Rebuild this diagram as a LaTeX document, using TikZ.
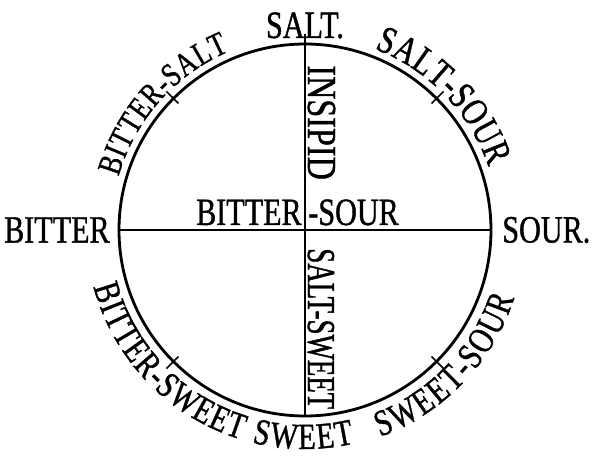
\documentclass[tikz,border=0pt]{standalone}
\usepackage{fontspec}
\usepackage{tikz}
\usetikzlibrary{decorations.text}
\newfontfamily\tastefont[FakeStretch=0.78,FakeBold=1]{Liberation Serif}
\newfontfamily\tastenarrow[FakeStretch=0.68,FakeBold=1]{Liberation Serif}
\newcommand{\bigtaste}{\tastefont\fontsize{22}{24}\selectfont}
\newcommand{\midtaste}{\tastefont\fontsize{21}{23}\selectfont}
\newcommand{\smalltaste}{\tastefont\fontsize{19}{21}\selectfont}
\tikzset{
  rim/.style={draw=black, line width=1.6pt},
  axis/.style={draw=black, line width=1.1pt},
  notch/.style={draw=black, line width=1pt},
  taste/.style={font=\bigtaste, inner sep=0pt, text=black},
  sidetaste/.style={taste, rotate=-90, anchor=base west},
  arctaste/.style={decorate, decoration={text along path, text align=fit to path, text={#1}}}
}

\begin{document}
\begin{tikzpicture}[x=0.02cm,y=0.02cm]
  \useasboundingbox (0,0) rectangle (600,457);
  \coordinate (c) at (305,227);

  % circle and cross
  \draw[rim] (c) circle[radius=186];
  \path (c) ++(90:196) coordinate (top)
        (c) ++(270:186) coordinate (bot)
        (c) ++(180:186) coordinate (west)
        (c) ++(0:186) coordinate (east);
  \draw[axis] (top) -- (bot);
  \draw[axis] (west) -- (east);
  \foreach \a in {45,135,225,315}
    \draw[notch] (c) ++(\a:179) -- ++(\a:17);

  % straight labels
  \node[taste, anchor=base] (salt) at (305,419) {SALT.};
  \node[taste, anchor=east] (bitter) at (110,227) {BITTER};
  \node[taste, anchor=west] (sour) at (502,227) {SOUR.};
  \node[taste, anchor=base east] (bsleft) at (302,232) {BITTER};
  \node[taste, anchor=base west] (bsright) at (308,232) {-SOUR};
  \node[sidetaste, font=\tastefont\fontsize{23.5}{25}\selectfont] (insipid) at (308,392) {INSIPID};
  \node[sidetaste, font=\tastenarrow\fontsize{22.5}{24}\selectfont] (saltsweet) at (308,209) {SALT-SWEET};

  % labels along the rim
  \path[arctaste={|\smalltaste|BITTER-SALT}] (c) ++(164:194) arc[start angle=164, end angle=113, radius=194];
  \path[arctaste={|\bigtaste|SALT-SOUR}] (c) ++(69:194) arc[start angle=69, end angle=19, radius=194];
  \path[arctaste={|\midtaste|BITTER-SWEET}] (c) ++(195:219) arc[start angle=195, end angle=253, radius=219];
  \path[arctaste={|\midtaste|SWEET}] (c) ++(256:219) arc[start angle=256, end angle=283, radius=219];
  \path[arctaste={|\midtaste|SWEET-SOUR}] (c) ++(290:220) arc[start angle=290, end angle=342, radius=220];
\end{tikzpicture}
\end{document}
